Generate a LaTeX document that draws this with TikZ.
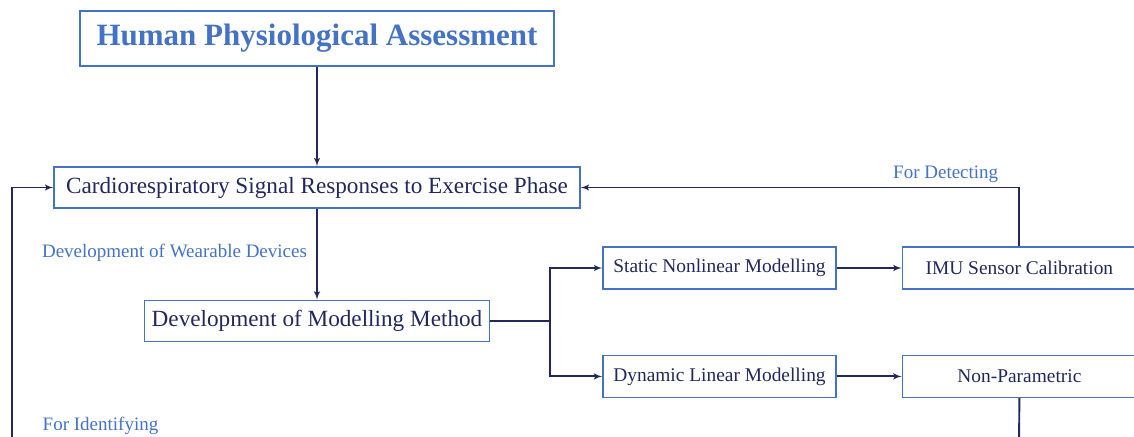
\documentclass[tikz,border=0pt]{standalone}
\usepackage{fontspec}
\setmainfont{Liberation Serif}
\usetikzlibrary{positioning}
\usetikzlibrary{arrows}
\definecolor{headblue}{RGB}{68,114,196}
\definecolor{linenavy}{RGB}{32,40,92}
\tikzstyle{block} = [rectangle, draw=headblue, line width=1.4pt, text=linenavy,
font=\fontsize{23.2}{27}\selectfont, minimum height=41pt, inner sep=0pt]
\tikzstyle{smallblock} = [block, font=\fontsize{19.4}{23}\selectfont, minimum width=233pt, minimum height=42pt]
\tikzstyle{headblock} = [block, line width=2.6pt, text=headblue, font=\fontsize{31}{36}\selectfont\bfseries,
minimum width=474pt, minimum height=55pt]
\tikzstyle{line} = [draw=linenavy, line width=1.9pt, -latex']
\tikzstyle{plainline} = [draw=linenavy, line width=1.9pt]
\tikzstyle{note} = [text=headblue, font=\fontsize{19}{23}\selectfont, inner sep=0pt]
\begin{document}
\begin{tikzpicture}[x=1pt, y=1pt, node distance=66pt]
			\useasboundingbox (0,0) rectangle (1134,-436);
			\clip (0,0) rectangle (1134,-436);
			\node [headblock] (head) at (317,-38.5) {Human Physiological Assessment};
			\node [block, minimum width=526pt, below=99pt of head] (cardio) {Cardiorespiratory Signal Responses to Exercise Phase};
			\node [block, minimum width=345pt, below=91pt of cardio] (method) {Development of Modelling Method};
			\node [smallblock] (static) at (719.5,-268) {Static Nonlinear Modelling};
			\node [smallblock, below=65pt of static] (dynamic) {Dynamic Linear Modelling};
			\node [smallblock, minimum width=234pt, right=65pt of static] (imu) {IMU Sensor Calibration};
			\node [smallblock, minimum width=234pt, right=65pt of dynamic] (nonpar) {Non-Parametric};
			% labels
			\node [note] (wearable) at (174.5,-253) {Development of Wearable Devices};
			\node [note] (identify) at (100.5,-426) {For Identifying};
			% free ends
			\coordinate [right=60pt of method.east] (split);
			\coordinate (loopstart) at (12,-445);
			\coordinate (nonparend) at (1019,-445);
			\path [line] (head) -- (cardio);
			\path [line] (cardio) -- (method);
			\path [plainline] (method.east) -- (split);
			\path [line] (split) |- (static.west);
			\path [line] (split) |- (dynamic.west);
			\path [line] (static) -- (imu);
			\path [line] (dynamic) -- (nonpar);
			\path [line] (imu.north) |- (cardio.east) node [note, above=4pt, pos=0.584] {For Detecting};
			\path [line] (loopstart) |- (cardio.west);
			\path [plainline] (nonpar.south) -- (nonparend);
			
			\end{tikzpicture}
\end{document}
